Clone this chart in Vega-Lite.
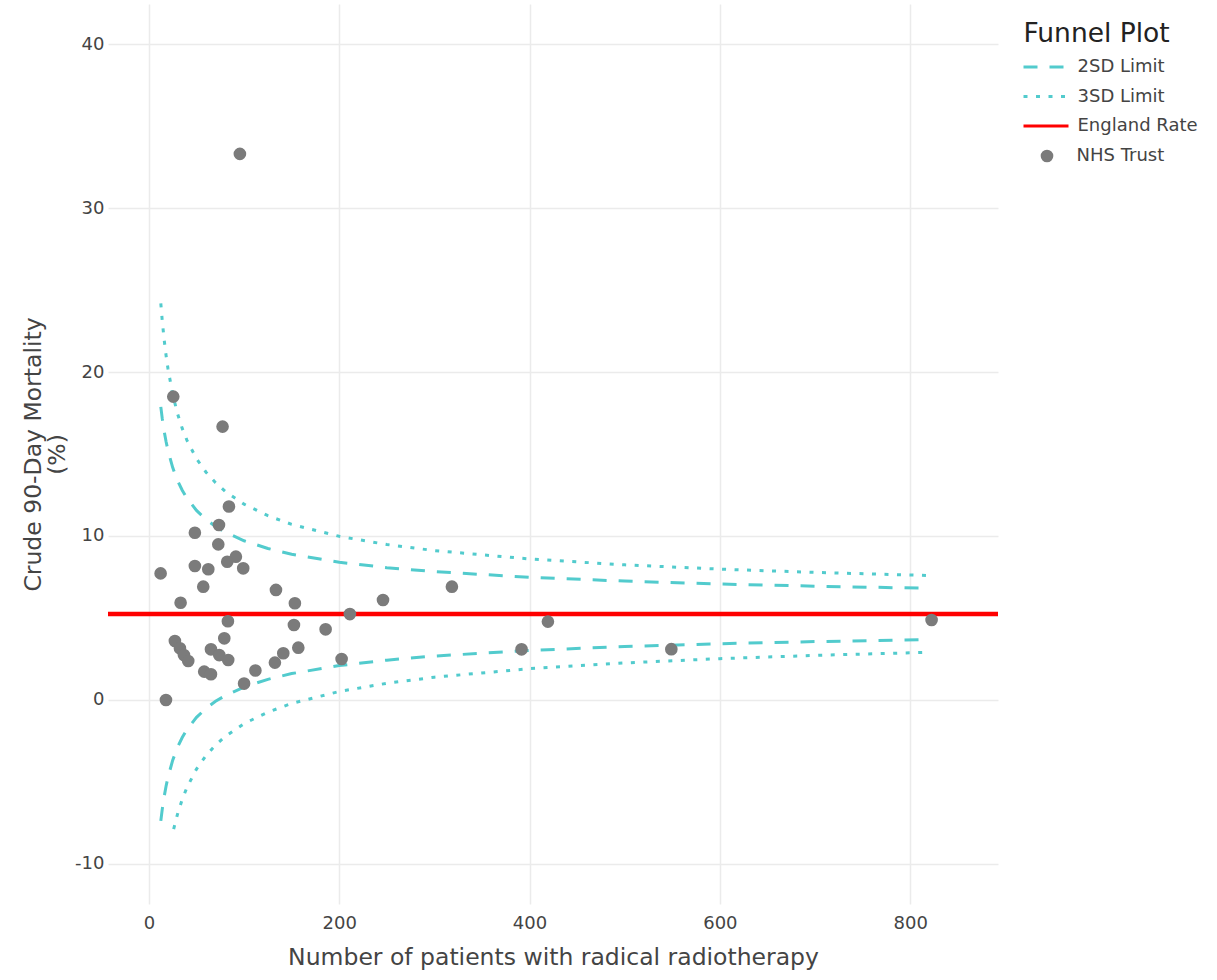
{
  "$schema": "https://vega.github.io/schema/vega-lite/v6.json",
  "width": 890,
  "height": 900,
  "autosize": {"type": "none"},
  "padding": {"left": 108, "top": 4, "right": 219, "bottom": 76},
  "background": "white",
  "config": {
    "view": {"stroke": null},
    "font": "DejaVu Sans",
    "axis": {
      "grid": true, "gridColor": "#ebebeb", "gridWidth": 1.5,
      "domain": false, "ticks": false,
      "labelFont": "DejaVu Sans", "labelFontSize": 18, "labelColor": "#444444",
      "titleFont": "DejaVu Sans", "titleFontSize": 23.5, "titleFontWeight": "normal", "titleColor": "#444444"
    },
    "legend": {
      "orient": "right", "offset": 21.5, "padding": 3.5,
      "titleFont": "DejaVu Sans", "titleFontSize": 26.5, "titleFontWeight": "normal", "titleColor": "#222222",
      "titleBaseline": "line-top", "titleLineHeight": 53, "titlePadding": 24,
      "labelFont": "DejaVu Sans", "labelFontSize": 18, "labelColor": "#444444",
      "rowPadding": 11.5
    }
  },
  "datasets": {
    "limits": [
      {"series": "2SD Limit", "curve": "2SD upper", "n": 12.5, "v": 17.87},
      {"series": "2SD Limit", "curve": "2SD upper", "n": 14, "v": 17.17},
      {"series": "2SD Limit", "curve": "2SD upper", "n": 16, "v": 16.40},
      {"series": "2SD Limit", "curve": "2SD upper", "n": 18, "v": 15.76},
      {"series": "2SD Limit", "curve": "2SD upper", "n": 20, "v": 15.22},
      {"series": "2SD Limit", "curve": "2SD upper", "n": 25, "v": 14.17},
      {"series": "2SD Limit", "curve": "2SD upper", "n": 30, "v": 13.39},
      {"series": "2SD Limit", "curve": "2SD upper", "n": 35, "v": 12.79},
      {"series": "2SD Limit", "curve": "2SD upper", "n": 40, "v": 12.30},
      {"series": "2SD Limit", "curve": "2SD upper", "n": 50, "v": 11.56},
      {"series": "2SD Limit", "curve": "2SD upper", "n": 60, "v": 11.01},
      {"series": "2SD Limit", "curve": "2SD upper", "n": 70, "v": 10.58},
      {"series": "2SD Limit", "curve": "2SD upper", "n": 80, "v": 10.24},
      {"series": "2SD Limit", "curve": "2SD upper", "n": 100, "v": 9.71},
      {"series": "2SD Limit", "curve": "2SD upper", "n": 125, "v": 9.24},
      {"series": "2SD Limit", "curve": "2SD upper", "n": 150, "v": 8.89},
      {"series": "2SD Limit", "curve": "2SD upper", "n": 200, "v": 8.40},
      {"series": "2SD Limit", "curve": "2SD upper", "n": 250, "v": 8.07},
      {"series": "2SD Limit", "curve": "2SD upper", "n": 300, "v": 7.83},
      {"series": "2SD Limit", "curve": "2SD upper", "n": 400, "v": 7.48},
      {"series": "2SD Limit", "curve": "2SD upper", "n": 500, "v": 7.25},
      {"series": "2SD Limit", "curve": "2SD upper", "n": 600, "v": 7.07},
      {"series": "2SD Limit", "curve": "2SD upper", "n": 700, "v": 6.94},
      {"series": "2SD Limit", "curve": "2SD upper", "n": 820, "v": 6.81},
      {"series": "2SD Limit", "curve": "2SD lower", "n": 12.5, "v": -7.37},
      {"series": "2SD Limit", "curve": "2SD lower", "n": 14, "v": -6.67},
      {"series": "2SD Limit", "curve": "2SD lower", "n": 16, "v": -5.90},
      {"series": "2SD Limit", "curve": "2SD lower", "n": 18, "v": -5.26},
      {"series": "2SD Limit", "curve": "2SD lower", "n": 20, "v": -4.72},
      {"series": "2SD Limit", "curve": "2SD lower", "n": 25, "v": -3.67},
      {"series": "2SD Limit", "curve": "2SD lower", "n": 30, "v": -2.89},
      {"series": "2SD Limit", "curve": "2SD lower", "n": 35, "v": -2.29},
      {"series": "2SD Limit", "curve": "2SD lower", "n": 40, "v": -1.80},
      {"series": "2SD Limit", "curve": "2SD lower", "n": 50, "v": -1.06},
      {"series": "2SD Limit", "curve": "2SD lower", "n": 60, "v": -0.51},
      {"series": "2SD Limit", "curve": "2SD lower", "n": 70, "v": -0.08},
      {"series": "2SD Limit", "curve": "2SD lower", "n": 80, "v": 0.26},
      {"series": "2SD Limit", "curve": "2SD lower", "n": 100, "v": 0.79},
      {"series": "2SD Limit", "curve": "2SD lower", "n": 125, "v": 1.26},
      {"series": "2SD Limit", "curve": "2SD lower", "n": 150, "v": 1.61},
      {"series": "2SD Limit", "curve": "2SD lower", "n": 200, "v": 2.10},
      {"series": "2SD Limit", "curve": "2SD lower", "n": 250, "v": 2.43},
      {"series": "2SD Limit", "curve": "2SD lower", "n": 300, "v": 2.68},
      {"series": "2SD Limit", "curve": "2SD lower", "n": 400, "v": 3.02},
      {"series": "2SD Limit", "curve": "2SD lower", "n": 500, "v": 3.26},
      {"series": "2SD Limit", "curve": "2SD lower", "n": 600, "v": 3.43},
      {"series": "2SD Limit", "curve": "2SD lower", "n": 700, "v": 3.56},
      {"series": "2SD Limit", "curve": "2SD lower", "n": 820, "v": 3.69},
      {"series": "3SD Limit", "curve": "3SD upper", "n": 12.5, "v": 24.18},
      {"series": "3SD Limit", "curve": "3SD upper", "n": 14, "v": 23.13},
      {"series": "3SD Limit", "curve": "3SD upper", "n": 16, "v": 21.98},
      {"series": "3SD Limit", "curve": "3SD upper", "n": 18, "v": 21.02},
      {"series": "3SD Limit", "curve": "3SD upper", "n": 20, "v": 20.21},
      {"series": "3SD Limit", "curve": "3SD upper", "n": 25, "v": 18.63},
      {"series": "3SD Limit", "curve": "3SD upper", "n": 30, "v": 17.47},
      {"series": "3SD Limit", "curve": "3SD upper", "n": 35, "v": 16.56},
      {"series": "3SD Limit", "curve": "3SD upper", "n": 40, "v": 15.83},
      {"series": "3SD Limit", "curve": "3SD upper", "n": 50, "v": 14.71},
      {"series": "3SD Limit", "curve": "3SD upper", "n": 60, "v": 13.89},
      {"series": "3SD Limit", "curve": "3SD upper", "n": 70, "v": 13.25},
      {"series": "3SD Limit", "curve": "3SD upper", "n": 80, "v": 12.73},
      {"series": "3SD Limit", "curve": "3SD upper", "n": 100, "v": 11.94},
      {"series": "3SD Limit", "curve": "3SD upper", "n": 125, "v": 11.24},
      {"series": "3SD Limit", "curve": "3SD upper", "n": 150, "v": 10.71},
      {"series": "3SD Limit", "curve": "3SD upper", "n": 200, "v": 9.98},
      {"series": "3SD Limit", "curve": "3SD upper", "n": 250, "v": 9.48},
      {"series": "3SD Limit", "curve": "3SD upper", "n": 300, "v": 9.11},
      {"series": "3SD Limit", "curve": "3SD upper", "n": 400, "v": 8.60},
      {"series": "3SD Limit", "curve": "3SD upper", "n": 500, "v": 8.24},
      {"series": "3SD Limit", "curve": "3SD upper", "n": 600, "v": 7.98},
      {"series": "3SD Limit", "curve": "3SD upper", "n": 700, "v": 7.78},
      {"series": "3SD Limit", "curve": "3SD upper", "n": 820, "v": 7.59},
      {"series": "3SD Limit", "curve": "3SD lower", "n": 26, "v": -7.87},
      {"series": "3SD Limit", "curve": "3SD lower", "n": 30, "v": -6.97},
      {"series": "3SD Limit", "curve": "3SD lower", "n": 35, "v": -6.06},
      {"series": "3SD Limit", "curve": "3SD lower", "n": 40, "v": -5.33},
      {"series": "3SD Limit", "curve": "3SD lower", "n": 50, "v": -4.21},
      {"series": "3SD Limit", "curve": "3SD lower", "n": 60, "v": -3.39},
      {"series": "3SD Limit", "curve": "3SD lower", "n": 70, "v": -2.75},
      {"series": "3SD Limit", "curve": "3SD lower", "n": 80, "v": -2.23},
      {"series": "3SD Limit", "curve": "3SD lower", "n": 100, "v": -1.44},
      {"series": "3SD Limit", "curve": "3SD lower", "n": 125, "v": -0.74},
      {"series": "3SD Limit", "curve": "3SD lower", "n": 150, "v": -0.21},
      {"series": "3SD Limit", "curve": "3SD lower", "n": 200, "v": 0.52},
      {"series": "3SD Limit", "curve": "3SD lower", "n": 250, "v": 1.02},
      {"series": "3SD Limit", "curve": "3SD lower", "n": 300, "v": 1.39},
      {"series": "3SD Limit", "curve": "3SD lower", "n": 400, "v": 1.91},
      {"series": "3SD Limit", "curve": "3SD lower", "n": 500, "v": 2.26},
      {"series": "3SD Limit", "curve": "3SD lower", "n": 600, "v": 2.52},
      {"series": "3SD Limit", "curve": "3SD lower", "n": 700, "v": 2.72},
      {"series": "3SD Limit", "curve": "3SD lower", "n": 820, "v": 2.91}
    ],
    "england": [
      {"series": "England Rate", "curve": "England", "n": -43, "v": 5.25},
      {"series": "England Rate", "curve": "England", "n": 892.3, "v": 5.25}
    ],
    "trusts": [
      {"type": "NHS Trust", "n": 95.6, "v": 33.3},
      {"type": "NHS Trust", "n": 25.6, "v": 18.5},
      {"type": "NHS Trust", "n": 77.4, "v": 16.67},
      {"type": "NHS Trust", "n": 84.1, "v": 11.8},
      {"type": "NHS Trust", "n": 73.6, "v": 10.67},
      {"type": "NHS Trust", "n": 48.3, "v": 10.2},
      {"type": "NHS Trust", "n": 72.9, "v": 9.49},
      {"type": "NHS Trust", "n": 91.4, "v": 8.74},
      {"type": "NHS Trust", "n": 82.3, "v": 8.43},
      {"type": "NHS Trust", "n": 99.1, "v": 8.03},
      {"type": "NHS Trust", "n": 48.3, "v": 8.17},
      {"type": "NHS Trust", "n": 62.4, "v": 7.97},
      {"type": "NHS Trust", "n": 12.3, "v": 7.72},
      {"type": "NHS Trust", "n": 57.1, "v": 6.91},
      {"type": "NHS Trust", "n": 33.3, "v": 5.93},
      {"type": "NHS Trust", "n": 133.5, "v": 6.71},
      {"type": "NHS Trust", "n": 153.4, "v": 5.9},
      {"type": "NHS Trust", "n": 318.4, "v": 6.91},
      {"type": "NHS Trust", "n": 246, "v": 6.1},
      {"type": "NHS Trust", "n": 211.2, "v": 5.24},
      {"type": "NHS Trust", "n": 83, "v": 4.8},
      {"type": "NHS Trust", "n": 152.4, "v": 4.57},
      {"type": "NHS Trust", "n": 419.3, "v": 4.78},
      {"type": "NHS Trust", "n": 822.5, "v": 4.88},
      {"type": "NHS Trust", "n": 185.7, "v": 4.31},
      {"type": "NHS Trust", "n": 79.2, "v": 3.76},
      {"type": "NHS Trust", "n": 27.3, "v": 3.6},
      {"type": "NHS Trust", "n": 32.6, "v": 3.15},
      {"type": "NHS Trust", "n": 36.8, "v": 2.74},
      {"type": "NHS Trust", "n": 41.3, "v": 2.38},
      {"type": "NHS Trust", "n": 65.2, "v": 3.09},
      {"type": "NHS Trust", "n": 73.9, "v": 2.74},
      {"type": "NHS Trust", "n": 83.3, "v": 2.44},
      {"type": "NHS Trust", "n": 58.1, "v": 1.73},
      {"type": "NHS Trust", "n": 65.2, "v": 1.57},
      {"type": "NHS Trust", "n": 100, "v": 1.0},
      {"type": "NHS Trust", "n": 111.9, "v": 1.8},
      {"type": "NHS Trust", "n": 157, "v": 3.19},
      {"type": "NHS Trust", "n": 141.2, "v": 2.85},
      {"type": "NHS Trust", "n": 132.4, "v": 2.28},
      {"type": "NHS Trust", "n": 202.5, "v": 2.5},
      {"type": "NHS Trust", "n": 391.6, "v": 3.09},
      {"type": "NHS Trust", "n": 549, "v": 3.1},
      {"type": "NHS Trust", "n": 17.9, "v": 0}
    ]
  },
  "encoding": {
    "x": {
      "field": "n", "type": "quantitative",
      "scale": {"domain": [-43, 892.3], "nice": false, "zero": false},
      "axis": {"values": [0, 200, 400, 600, 800], "labelPadding": 10, "titlePadding": 13,
               "title": "Number of patients with radical radiotherapy"}
    },
    "y": {
      "field": "v", "type": "quantitative",
      "scale": {"domain": [-12.44, 42.44], "nice": false, "zero": false},
      "axis": {"values": [-10, 0, 10, 20, 30, 40], "labelPadding": 4, "titlePadding": 5,
               "titleLineHeight": 24,
               "labelExpr": "replace(datum.label, '−', '-')",
               "title": ["Crude 90-Day Mortality", "(%)"]}
    }
  },
  "layer": [
    {
      "data": {"name": "limits"},
      "mark": {"type": "line", "strokeWidth": 3, "clip": true},
      "encoding": {
        "color": {"field": "series", "type": "nominal",
          "scale": {"domain": ["2SD Limit", "3SD Limit", "England Rate"], "range": ["#52cbcd", "#52cbcd", "#ff0000"]},
          "legend": {"title": "Funnel Plot", "symbolType": "M-3,0H3", "symbolSize": 225, "symbolStrokeWidth": 3, "symbolOffset": 13.5, "labelOffset": 22.5}},
        "strokeDash": {"field": "series", "type": "nominal",
          "scale": {"domain": ["2SD Limit", "3SD Limit", "England Rate"], "range": [[14, 12], [4, 8.5], [1, 0]]},
          "legend": {"title": "Funnel Plot", "symbolType": "M-3,0H3", "symbolSize": 225, "symbolStrokeWidth": 3, "symbolOffset": 13.5, "labelOffset": 22.5}},
        "detail": {"field": "curve"}
      }
    },
    {
      "data": {"name": "england"},
      "mark": {"type": "line", "strokeWidth": 4.5, "clip": true},
      "encoding": {
        "color": {"field": "series", "type": "nominal"},
        "strokeDash": {"field": "series", "type": "nominal"},
        "detail": {"field": "curve"}
      }
    },
    {
      "data": {"name": "trusts"},
      "mark": {"type": "point", "filled": true, "size": 160, "opacity": 1, "strokeWidth": 0},
      "encoding": {
        "fill": {"field": "type", "type": "nominal",
          "scale": {"range": ["#7b7b7b"]},
          "legend": {"title": null, "symbolType": "circle", "symbolSize": 160, "symbolStrokeWidth": 0, "symbolOffset": 18, "labelOffset": 20.5, "padding": 0}}
      }
    }
  ]
}
